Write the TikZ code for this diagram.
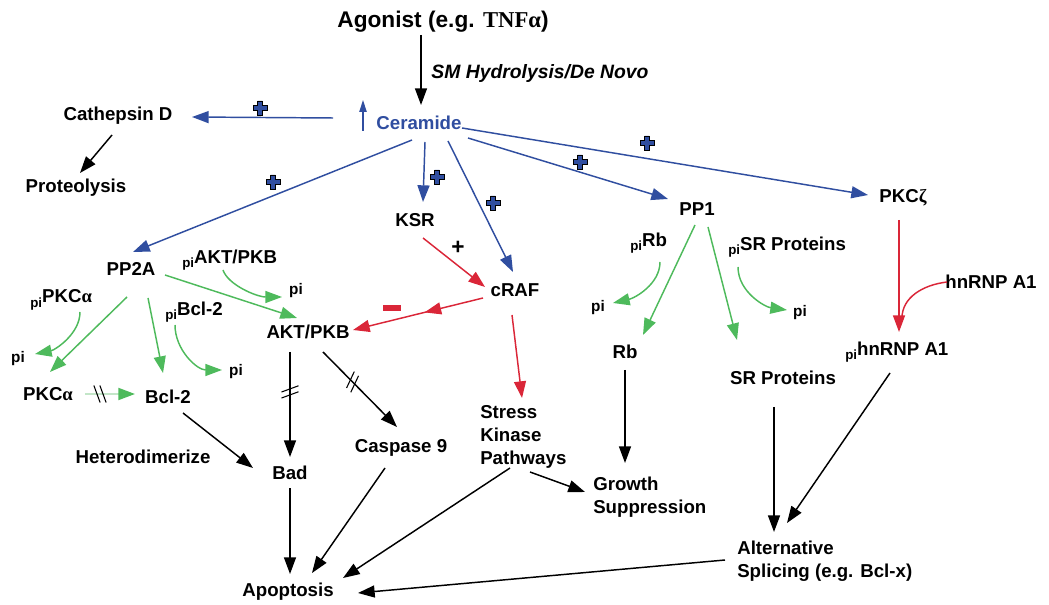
\documentclass[tikz,border=0pt]{standalone}
\usepackage{fontspec}
\setmainfont{Liberation Sans}
\newfontfamily\seriff{Liberation Serif}
\usetikzlibrary{arrows.meta,decorations.markings}
\definecolor{cblue}{RGB}{48,78,160}
\definecolor{cred}{RGB}{218,38,56}
\definecolor{cgreen}{RGB}{78,186,92}
\definecolor{cpale}{RGB}{195,230,200}
\newcommand{\psub}{\raisebox{-0.45ex}{\fontsize{10}{10}\selectfont pi}}
\begin{document}
\begin{tikzpicture}[x=0.75pt,y=-0.75pt,
 lbl/.style={font=\bfseries\fontsize{14}{17}\selectfont, inner sep=0pt},
 pilbl/.style={font=\bfseries\fontsize{11.5}{12}\selectfont, inner sep=0pt},
 con/.style={line width=1.1pt, -{Triangle[length=12.5pt,width=9pt]}},
 bcon/.style={con, cblue},
 rcon/.style={con, cred},
 gcon/.style={con, cgreen},
 kcon/.style={con, black},
 brk/.style={postaction={decorate, decoration={markings, mark=at position #1 with {\draw[-,black,line width=0.8pt] (0.1pt,-6.4pt)--(-4.6pt,6.4pt) (4.6pt,-6.4pt)--(-0.1pt,6.4pt);}}}},
 midarrow/.style={postaction={decorate, decoration={markings, mark=at position #1 with {\arrow{Triangle[length=12.5pt,width=9pt]}}}}},
 pluspic/.pic={\filldraw[fill=cblue,draw=black,line width=0.7pt] (-2.3,-7)--(2.3,-7)--(2.3,-2.3)--(7,-2.3)--(7,2.3)--(2.3,2.3)--(2.3,7)--(-2.3,7)--(-2.3,2.3)--(-7,2.3)--(-7,-2.3)--(-2.3,-2.3)--cycle;}
]
\useasboundingbox (0,0) rectangle (1049,605);

% nodes
\node[lbl,font=\bfseries\fontsize{17}{20}\selectfont] (ag) at (443,22) {Agonist (e.g. {\seriff TNFα})};
\node[lbl,font=\bfseries\itshape\fontsize{14.5}{17}\selectfont] (sm) at (540,74) {SM Hydrolysis/De Novo};
\node[lbl,text=cblue] (cer) at (419,123) {Ceramide};
\node[lbl] (cath) at (118,116) {Cathepsin D};
\node[lbl] (prot) at (76,188) {Proteolysis};
\node[lbl] (pp2a) at (131,269) {PP2A};
\node[lbl] (ksr) at (415,220) {KSR};
\node[lbl] (craf) at (515,290) {cRAF};
\node[lbl] (pp1) at (697,209) {PP1};
\node[lbl] (pkcz) at (903,198) {PKC{\seriff ζ}};
\node[lbl,anchor=west] (piakt) at (182,260) {\psub AKT/PKB};
\node[pilbl] (pi1) at (296,291) {pi};
\node[lbl,anchor=west] (ppkca) at (30,300) {\psub PKC{\seriff α}};
\node[pilbl] (pi2) at (18,359) {pi};
\node[lbl,anchor=west] (pbcl) at (165,312) {\psub Bcl-2};
\node[pilbl] (pi3) at (236,372) {pi};
\node[lbl] (pkca) at (48,394) {PKC{\seriff α}};
\node[lbl] (bcl) at (168,397) {Bcl-2};
\node[lbl] (akt) at (308,332) {AKT/PKB};
\node[lbl] (het) at (143,457) {Heterodimerize};
\node[lbl] (bad) at (290,473) {Bad};
\node[lbl] (casp) at (401,448) {Caspase 9};
\node[lbl,anchor=west,align=left] (stress) at (480,437) {Stress\\Kinase\\Pathways};
\node[lbl] (apop) at (288,592) {Apoptosis};
\node[lbl,anchor=west] (prb) at (630,243) {\psub Rb};
\node[pilbl] (pi4) at (598,308) {pi};
\node[lbl] (rb) at (625,352) {Rb};
\node[lbl,anchor=west] (psr) at (728,247) {\psub SR Proteins};
\node[pilbl] (pi5) at (800,313) {pi};
\node[lbl] (sr) at (783,378) {SR Proteins};
\node[lbl,anchor=west] (phn) at (845,352) {\psub hnRNP A1};
\node[lbl] (hn) at (991,282) {hnRNP A1};
\node[lbl,anchor=west,align=left] (grow) at (593,497) {Growth\\Suppression};
\node[lbl,anchor=west,align=left] (alt) at (737,561) {Alternative\\Splicing (e.g. Bcl-x)};

% signs
\pic at (260,108) {pluspic};
\pic at (273,182) {pluspic};
\pic at (437,177) {pluspic};
\pic at (493,203) {pluspic};
\pic at (580,162) {pluspic};
\pic at (647,143) {pluspic};
\node[font=\bfseries\fontsize{17}{17}\selectfont, inner sep=0pt] (kplus) at (458,248) {+};
\node[fill=cred, minimum width=13.5pt, minimum height=4.5pt, inner sep=0pt] (minus) at (392,308) {};

% connectors
\draw[kcon] ([shift={(-22,13)}]ag.center) -- ([shift={(2,-18)}]cer.center);
\draw[cblue, line width=1pt, -{Triangle[length=9pt,width=5.5pt]}] ([shift={(-56,8)}]cer.center) -- ([shift={(-56,-23)}]cer.center);
\draw[bcon] ([shift={(-86,-5)}]cer.center) -- ([shift={(74,1)}]cath.center);
\draw[kcon] ([shift={(-6,19)}]cath.center) -- ([shift={(4,-15)}]prot.center);
\draw[bcon] ([shift={(-7,17)}]cer.center) -- ([shift={(2,-17)}]pp2a.center);
\draw[bcon] ([shift={(6,19)}]cer.center) -- ([shift={(8,-18)}]ksr.center);
\draw[bcon] ([shift={(29,18)}]cer.center) -- ([shift={(-2,-18)}]craf.center);
\draw[bcon] ([shift={(49,15)}]cer.center) -- ([shift={(-29,-10)}]pp1.center);
\draw[bcon] ([shift={(43,5)}]cer.center) -- ([shift={(-35,-3)}]pkcz.center);

\draw[rcon] ([shift={(8,18)}]ksr.center) -- ([shift={(-30,-3)}]craf.center);
\draw[rcon, midarrow=0.45] ([shift={(-32,8)}]craf.center) -- ([shift={(45,-2)}]akt.center);
\draw[rcon] ([shift={(-3,25)}]craf.center) -- ([shift={(42,-39)}]stress.west);

\draw[gcon] ([shift={(-4,28)}]pp2a.center) -- ([shift={(2,-22)}]pkca.center);
\draw[gcon] ([shift={(17,29)}]pp2a.center) -- ([shift={(-5,-24)}]bcl.center);
\draw[gcon] ([shift={(34,6)}]pp2a.center) -- ([shift={(-11,-14)}]akt.center);
\draw[gcon] ([shift={(41,10)}]piakt.west) .. controls +(5,15) and +(-25,0) .. ([shift={(-14,6)}]pi1.center);
\draw[gcon] ([shift={(50,12)}]ppkca.west) .. controls +(0,22) and +(20,-4) .. ([shift={(17,-5)}]pi2.center);
\draw[gcon] ([shift={(10,13)}]pbcl.west) .. controls +(0,25) and +(-25,0) .. ([shift={(-14,-2)}]pi3.center);
\draw[cpale, line width=1.4pt, -{Triangle[length=12.5pt,width=9pt,color=cgreen]}, brk=0.3] ([shift={(37,0)}]pkca.center) -- ([shift={(-33,-3)}]bcl.center);

\draw[kcon] ([shift={(15,16)}]bcl.center) -- ([shift={(-37,-5)}]bad.center);
\draw[kcon, brk=0.38] ([shift={(-18,20)}]akt.center) -- ([shift={(0,-16)}]bad.center);
\draw[kcon, brk=0.4] ([shift={(15,20)}]akt.center) -- ([shift={(-4,-21)}]casp.center);
\draw[kcon] ([shift={(0,15)}]bad.center) -- ([shift={(2,-18)}]apop.center);
\draw[kcon] ([shift={(-16,20)}]casp.center) -- ([shift={(24,-19)}]apop.center);
\draw[kcon] ([shift={(30,31)}]stress.west) -- ([shift={(55,-14)}]apop.center);
\draw[kcon] ([shift={(-12,-1)}]alt.west) -- ([shift={(70,1)}]apop.center);
\draw[kcon] ([shift={(50,35)}]stress.west) -- ([shift={(-8,-5)}]grow.west);
\draw[kcon] ([shift={(0,18)}]rb.center) -- ([shift={(32,-34)}]grow.west);

\draw[gcon] ([shift={(-2,16)}]pp1.center) -- ([shift={(18,-17)}]rb.center);
\draw[gcon] ([shift={(11,18)}]pp1.center) -- ([shift={(-46,-38)}]sr.center);
\draw[gcon] ([shift={(30,19)}]prb.west) .. controls +(0,22) and +(22,-5) .. ([shift={(15,-5)}]pi4.center);
\draw[gcon] ([shift={(10,20)}]psr.west) .. controls +(0,25) and +(-22,-3) .. ([shift={(-13,-3)}]pi5.center);

\draw[kcon] ([shift={(-9,29)}]sr.center) -- ([shift={(37,-29)}]alt.west);
\draw[kcon] ([shift={(45,21)}]phn.west) -- ([shift={(50,-38)}]alt.west);
\draw[rcon] ([shift={(-4,22)}]pkcz.center) -- ([shift={(54,-20)}]phn.west);
\draw[cred, line width=1.1pt] ([shift={(-44,0)}]hn.center) .. controls +(-25,3) and +(0,-20) .. ([shift={(57,-34)}]phn.west);
\end{tikzpicture}
\end{document}
